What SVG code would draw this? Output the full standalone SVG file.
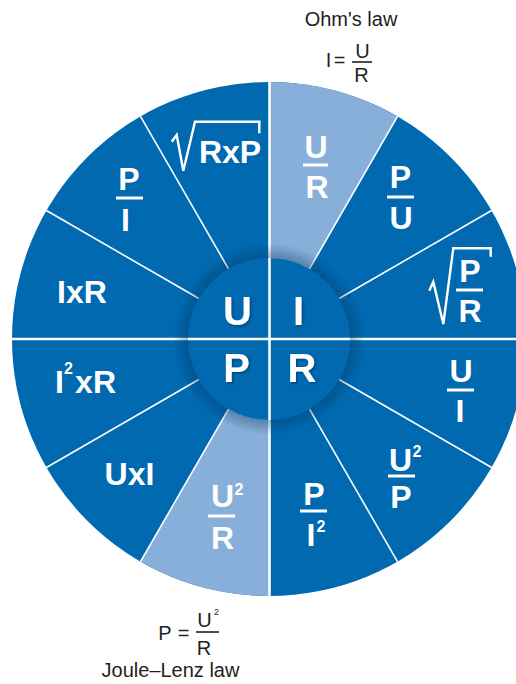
<svg xmlns="http://www.w3.org/2000/svg" width="516" height="684" viewBox="0 0 516 684">
<style>
.dark{fill:#0069af}
.light{fill:#88afd9}
.div{stroke:#fff;stroke-width:1.6;fill:none}
.axis{stroke:#fff;stroke-width:2.6;fill:none}
.lab{font-family:"Liberation Sans",Arial,sans-serif;font-weight:bold;font-size:32px;fill:#fff;text-anchor:middle}
.sup{font-family:"Liberation Sans",Arial,sans-serif;font-weight:bold;font-size:16px;fill:#fff}
.bar{stroke:#fff;stroke-width:3}
.rad{stroke:#fff;stroke-width:2.4;fill:none;stroke-linejoin:miter}
.big{font-family:"Liberation Sans",Arial,sans-serif;font-weight:bold;font-size:40px;fill:#fff;text-anchor:middle}
.cap{font-family:"Liberation Sans",Arial,sans-serif;font-size:20px;fill:#231f20;text-anchor:middle}
.kbar{stroke:#231f20;stroke-width:1.6}
</style>
<defs>
<radialGradient id="shadow" cx="269" cy="339" r="96" gradientUnits="userSpaceOnUse">
<stop offset="0" stop-color="#000" stop-opacity="0"/>
<stop offset="0.84" stop-color="#000" stop-opacity="0"/>
<stop offset="0.845" stop-color="#00345a" stop-opacity="0.35"/>
<stop offset="1" stop-color="#00345a" stop-opacity="0"/>
</radialGradient>
<filter id="ds" x="-20%" y="-20%" width="140%" height="140%">
<feDropShadow dx="1.5" dy="1.5" stdDeviation="1.2" flood-color="#002a4a" flood-opacity="0.5"/>
</filter>
</defs>

<g id="wheel">
<circle class="dark" cx="269" cy="339" r="257"/>
<path class="light" d="M269,339 L269,82 A257,257 0 0 1 397.5,116.43 Z"/>
<path class="light" d="M269,339 L269,596 A257,257 0 0 1 140.5,561.57 Z"/>
</g>

<g id="connectors">
<line class="div" x1="309.5" y1="268.85" x2="397.5" y2="116.43"/>
<line class="div" x1="339.15" y1="298.5" x2="491.57" y2="210.5"/>
<line class="div" x1="339.15" y1="379.5" x2="491.57" y2="467.5"/>
<line class="div" x1="309.5" y1="409.15" x2="397.5" y2="561.57"/>
<line class="div" x1="228.5" y1="409.15" x2="140.5" y2="561.57"/>
<line class="div" x1="198.85" y1="379.5" x2="46.43" y2="467.5"/>
<line class="div" x1="198.85" y1="298.5" x2="46.43" y2="210.5"/>
<line class="div" x1="228.5" y1="268.85" x2="140.5" y2="116.43"/>
<line class="axis" x1="269.5" y1="82" x2="269.5" y2="596"/>
<line class="axis" x1="12" y1="339" x2="516" y2="339"/>
</g>

<g id="hub">
<circle cx="269" cy="339" r="96" fill="url(#shadow)"/>
<circle class="dark" cx="269" cy="339" r="81"/>
<line class="axis" x1="269.5" y1="258" x2="269.5" y2="420"/>
<line class="axis" x1="188" y1="339" x2="350" y2="339"/>
<g filter="url(#ds)">
<text class="big" x="237.5" y="325">U</text>
<text class="big" x="298.5" y="325">I</text>
<text class="big" x="236.5" y="382">P</text>
<text class="big" x="302" y="382">R</text>
</g>
</g>

<g id="s-U-R">
<text class="lab" x="316" y="158">U</text>
<line class="bar" x1="303" y1="165" x2="328" y2="165"/>
<text class="lab" x="317" y="198">R</text>
</g>
<g id="s-P-U">
<text class="lab" x="400.5" y="188">P</text>
<line class="bar" x1="387" y1="197" x2="414" y2="197"/>
<text class="lab" x="401" y="229">U</text>
</g>
<g id="s-sqrtP-R">
<polyline class="rad" points="429.3,290.7 433.3,281.7 443.3,324 453.3,248.3 490.7,248.3 490.7,256.7"/>
<text class="lab" x="470" y="282">P</text>
<line class="bar" x1="456" y1="290" x2="483" y2="290"/>
<text class="lab" x="470" y="322">R</text>
</g>
<g id="s-U-I">
<text class="lab" x="461" y="382">U</text>
<line class="bar" x1="447" y1="390" x2="474" y2="390"/>
<text class="lab" x="460" y="422">I</text>
</g>
<g id="s-U2-P">
<text class="lab" x="400.5" y="471">U</text>
<text class="sup" x="412.5" y="457">2</text>
<line class="bar" x1="388" y1="476" x2="415" y2="476"/>
<text class="lab" x="401" y="508">P</text>
</g>
<g id="s-P-I2">
<text class="lab" x="314" y="505">P</text>
<line class="bar" x1="300" y1="511" x2="327" y2="511"/>
<text class="lab" x="311" y="546">I</text>
<text class="sup" x="316.5" y="532">2</text>
</g>
<g id="s-U2-R">
<text class="lab" x="222.5" y="507">U</text>
<text class="sup" x="234.5" y="495">2</text>
<line class="bar" x1="208" y1="516" x2="235" y2="516"/>
<text class="lab" x="222.5" y="549">R</text>
</g>
<g id="s-UxI">
<text class="lab" x="129.5" y="485">UxI</text>
</g>
<g id="s-I2xR">
<text class="lab" x="55" y="393" style="text-anchor:start">I</text>
<text class="sup" x="64" y="374">2</text>
<text class="lab" x="116" y="393" style="text-anchor:end">xR</text>
</g>
<g id="s-IxR">
<text class="lab" x="82" y="303">IxR</text>
</g>
<g id="s-P-I">
<text class="lab" x="129" y="190">P</text>
<line class="bar" x1="116" y1="198" x2="143" y2="198"/>
<text class="lab" x="125.5" y="231">I</text>
</g>
<g id="s-sqrtRxP">
<polyline class="rad" points="171.7,141.7 176.7,135 183.3,170.7 195,121.7 259.3,121.7 259.3,133.3"/>
<text class="lab" x="230" y="163">RxP</text>
</g>

<g id="ohm">
<text class="cap" x="351" y="26">Ohm's law</text>
<text class="cap" x="328.5" y="67">I</text>
<text class="cap" x="339.5" y="67">=</text>
<text class="cap" x="362.5" y="58">U</text>
<line class="kbar" x1="352" y1="62" x2="372" y2="62"/>
<text class="cap" x="361.5" y="82">R</text>
</g>
<g id="joule">
<text class="cap" x="165" y="640">P</text>
<text class="cap" x="183.5" y="640">=</text>
<text class="cap" x="204.5" y="627">U</text>
<text class="cap" x="214" y="615" style="font-size:9px;text-anchor:start">2</text>
<line class="kbar" x1="196" y1="632" x2="219" y2="632"/>
<text class="cap" x="204" y="655">R</text>
<text class="cap" x="170.5" y="677">Joule–Lenz law</text>
</g>
</svg>
